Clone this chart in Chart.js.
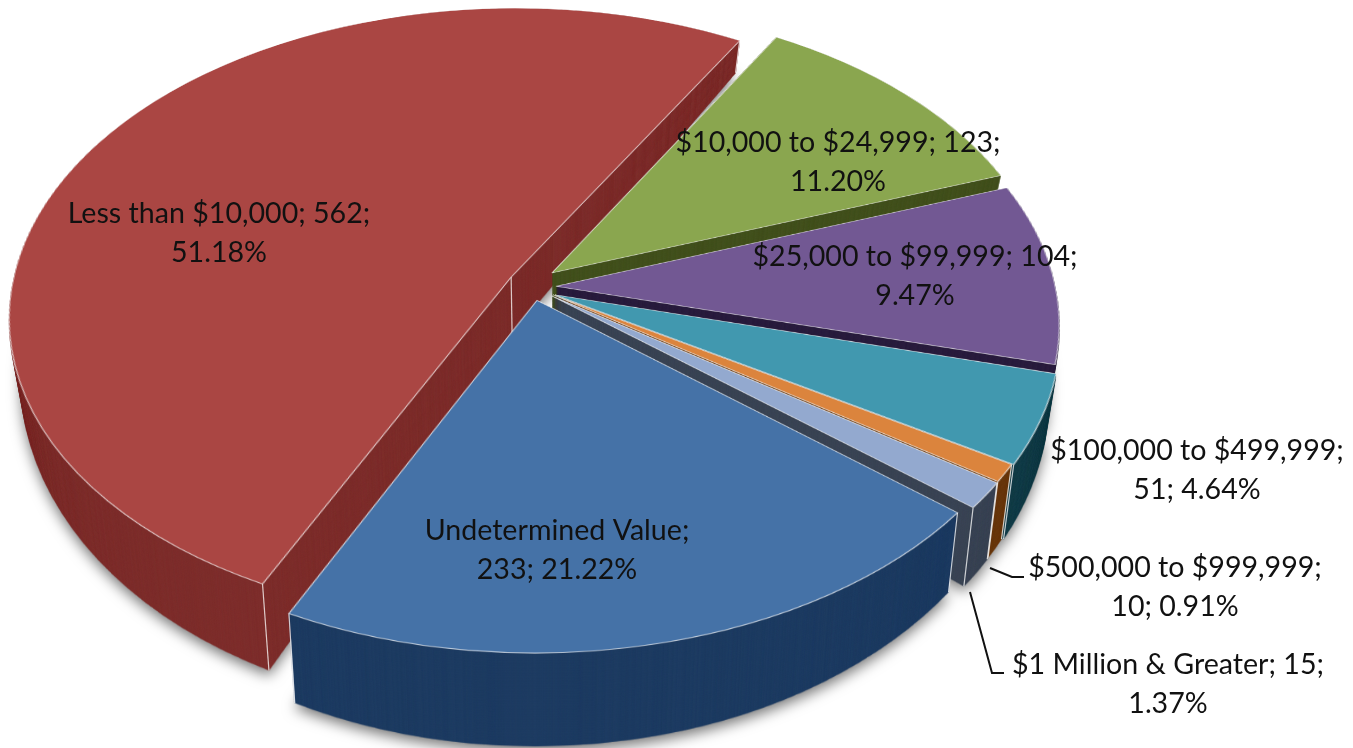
<!DOCTYPE html>
<html><head><meta charset="utf-8">
<style>html,body{margin:0;padding:0;background:#fff}#wrap{width:1353px;height:748px;position:relative}</style>
<script src="https://cdn.jsdelivr.net/npm/chart.js@4/dist/chart.umd.js"></script>
</head><body><div id="wrap"><canvas id="c" width="1353" height="748"></canvas></div>
<script>
const categories=["$10,000 to $24,999","$25,000 to $99,999","$100,000 to $499,999","$500,000 to $999,999","$1 Million & Greater","Undetermined Value","Less than $10,000"];
const counts=[123,104,51,10,15,233,562];
const percents=["11.20%","9.47%","4.64%","0.91%","1.37%","21.22%","51.18%"];
const topColors=["#8aa64f","#725893","#4198af","#db843d","#93a9cf","#4572a7","#aa4643"];
const sideColors=["#44521f","#2b1e3f","#17404b","#6b3a10","#3c4656","#1f3d63","#7f302e"];
const explode=[[-1,-20],[3,2],[2,16],[0,16],[-1,18],[-16,25],[-42,-13]];
const labelLines=[["$10,000 to $24,999; 123;","11.20%"],["$25,000 to $99,999; 104;","9.47%"],["$100,000 to $499,999;","51; 4.64%"],["$500,000 to $999,999;","10; 0.91%"],["$1 Million & Greater; 15;","1.37%"],["Undetermined Value;","233; 21.22%"],["Less than $10,000; 562;","51.18%"]];
const labelPos=[[838,143],[915,257],[1197,451],[1175,568],[1168,665],[557,531],[219,214]];
const leaders=[[[990,568],[1012,577],[1024,577]],[[970,592],[992,673],[1004,673]]];
const edgeSlices={2:[1],3:[0,1],4:[0,1],5:[0,1],6:[0,1,2]};

const X0=553,Y0=285,K=0.61,RAD=499,DIST=3990,FS=1600,FC=800,DX=0.022,DBASE=56,DSLOPE=0.1,DREF=280;
function project(u,v){const w=1-v/DIST;return [X0+u/w,Y0+K*v/w];}
function drop(p,z){return [X0+(p[0]-X0)*(1-DX*z), p[1]+z*(DBASE+DSLOPE*(p[1]-DREF))];}

function flatSheet(arcs,side){
  const c=document.createElement('canvas');c.width=FS;c.height=FS;const x=c.getContext('2d');
  arcs.forEach((a,i)=>{
    x.save();
    x.translate(FC-a.x+explode[i][0],FC-a.y+explode[i][1]);
    const o=a.options;
    if(side){a.options=Object.assign(Object.create(o),{backgroundColor:sideColors[i],borderWidth:0});}
    a.draw(x);
    a.options=o;
    x.restore();
  });
  return c;
}
function warp(flat){
  const c=document.createElement('canvas');c.width=1353;c.height=748;const x=c.getContext('2d');
  const vOf=y=>{const t=y-Y0;return t/(K+t/DIST);};
  for(let y=0;y<748;y++){
    const v=vOf(y),v1=vOf(y+1),s=1/(1-(v+v1)/2/DIST);
    x.drawImage(flat,0,FC+v,FS,v1-v,X0-FC*s,y,FS*s,1);
  }
  return c;
}
const pie3d={id:'pie3d',
  beforeDatasetsDraw(chart){
    const ctx=chart.ctx,arcs=chart.getDatasetMeta(0).data;
    const top=warp(flatSheet(arcs,false)),side=warp(flatSheet(arcs,true));
    const N=130;
    for(let n=N;n>=1;n--){
      const z=n/N;
      ctx.save();
      ctx.transform(1-DX*z,0,0,1+DSLOPE*z,X0*DX*z,z*(DBASE-DSLOPE*DREF));
      if(n===N){ctx.shadowColor='rgba(0,0,0,0.55)';ctx.shadowBlur=14;ctx.shadowOffsetY=5;}
      ctx.drawImage(side,0,0);
      ctx.restore();
    }
    ctx.save();ctx.strokeStyle='rgba(255,255,255,0.75)';ctx.lineWidth=1.2;
    arcs.forEach((a,i)=>{
      (edgeSlices[i]||[]).forEach(k=>{
        const e=explode[i];
        const ang=k===0?a.startAngle:a.endAngle;
        const f=k===2?0:RAD;
        const p=project(Math.cos(ang)*f+e[0],Math.sin(ang)*f+e[1]),q=drop(p,1);
        ctx.beginPath();ctx.moveTo(p[0],p[1]);ctx.lineTo(q[0],q[1]);ctx.stroke();
      });
    });
    ctx.restore();
    ctx.drawImage(top,0,0);
    return false;
  },
  afterDraw(chart){
    const ctx=chart.ctx;ctx.save();
    ctx.strokeStyle='#111';ctx.lineWidth=2;
    leaders.forEach(l=>{ctx.beginPath();l.forEach((p,i)=>i?ctx.lineTo(p[0],p[1]):ctx.moveTo(p[0],p[1]));ctx.stroke();});
    ctx.font='28.6px Lato';ctx.fillStyle='#111';ctx.textAlign='center';ctx.textBaseline='middle';
    labelLines.forEach((ls,i)=>ls.forEach((t,j)=>ctx.fillText(t,labelPos[i][0],labelPos[i][1]+j*38.5)));
    ctx.restore();
  }
};
new Chart(document.getElementById('c'),{type:'pie',
  data:{labels:categories,datasets:[{data:counts,backgroundColor:topColors,borderColor:'rgba(255,255,255,0.7)',borderWidth:1.2,radius:RAD}]},
  options:{responsive:false,animation:false,rotation:30,events:[],plugins:{legend:{display:false},tooltip:{enabled:false}}},
  plugins:[pie3d]});
</script></body></html>
